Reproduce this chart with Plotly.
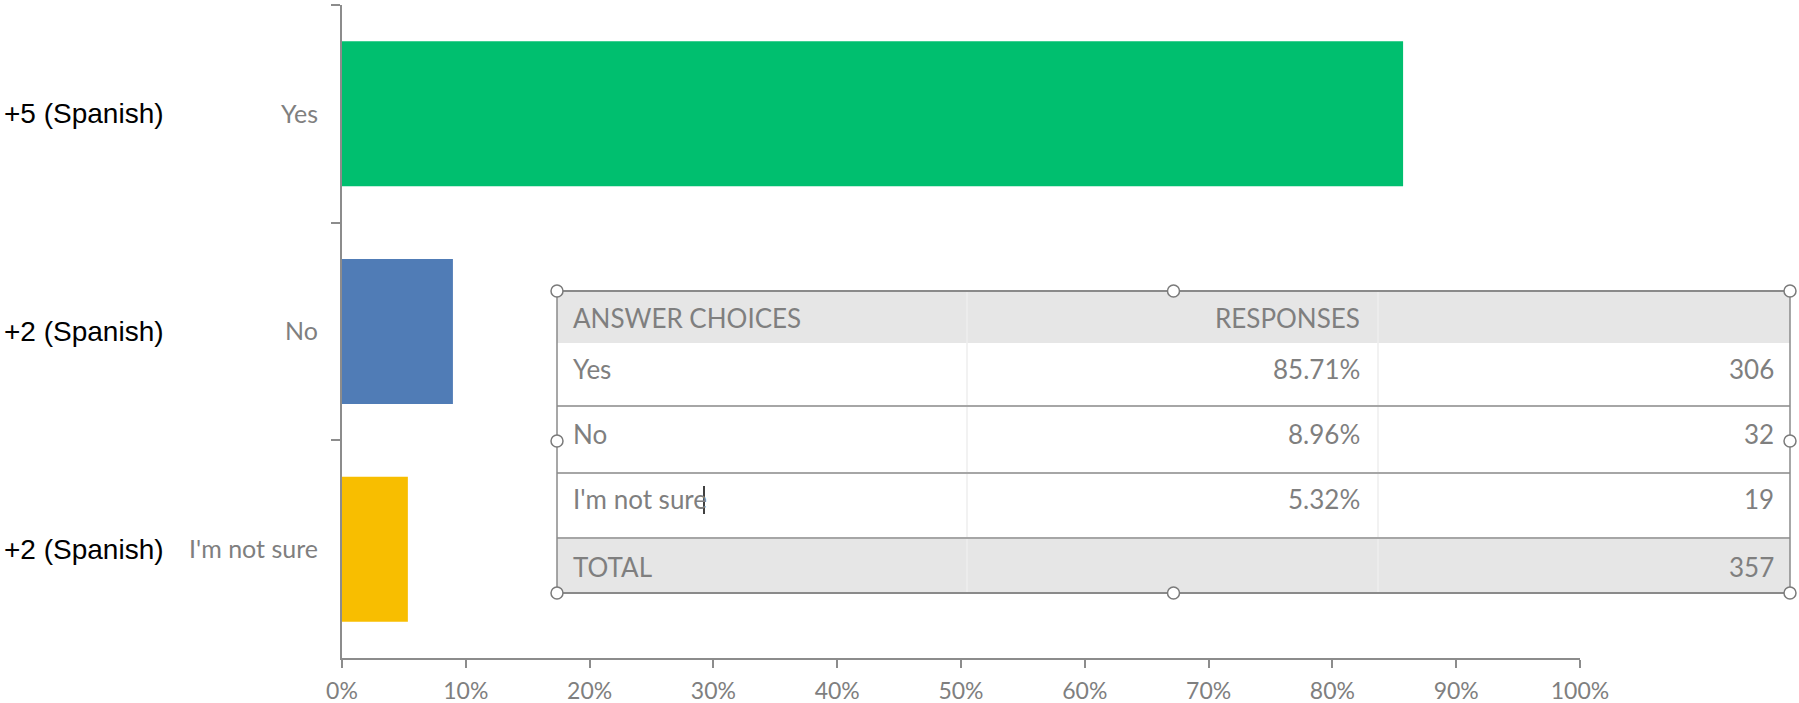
import plotly.graph_objects as go

# ---------------- data ----------------
categories = ["Yes", "No", "I'm not sure"]
percents = [85.71, 8.96, 5.32]
counts = [306, 32, 19]
group_labels = ["+5 (Spanish)", "+2 (Spanish)", "+2 (Spanish)"]
total_count = 357
bar_colors = ["#00BF6F", "#507CB6", "#F8BE00"]
x_tick_vals = [0, 10, 20, 30, 40, 50, 60, 70, 80, 90, 100]
x_tick_text = ["0%", "10%", "20%", "30%", "40%", "50%", "60%", "70%", "80%", "90%", "100%"]
table_header = ["ANSWER CHOICES", "RESPONSES"]
total_label = "TOTAL"

# ---------------- layout geometry (pixels) ----------------
W_FIG, H_FIG = 1799, 703
L, R, T, B = 342, 1580, 5, 658
PW, PH = R - L, B - T


def px(x):
    return (x - L) / PW


def py(y):
    return 1 - (y - T) / PH


GRAY = "#7f7f7f"
AXIS = "#8c8c8c"
FONT_CAL = "Lato"
FONT_ARIAL = "Liberation Sans, Arial"

fig = go.Figure()
fig.add_trace(go.Bar(
    x=percents, y=categories, orientation="h",
    marker=dict(color=bar_colors, line=dict(width=0)),
    hoverinfo="skip", showlegend=False,
))

fig.update_layout(
    width=W_FIG, height=H_FIG,
    margin=dict(l=L, r=W_FIG - R, t=T, b=H_FIG - B, pad=0, autoexpand=False),
    paper_bgcolor="white", plot_bgcolor="white",
    bargap=0.334,
    xaxis=dict(
        range=[0, 100], tickvals=x_tick_vals, ticktext=x_tick_text,
        showgrid=False, zeroline=False, showline=True, linecolor=AXIS, linewidth=2,
        ticks="outside", ticklen=8, tickcolor=AXIS, tickwidth=2,
        tickfont=dict(family=FONT_CAL, size=23, color=GRAY),
        ticklabelstandoff=3, automargin=False,
    ),
    yaxis=dict(
        type="category", categoryorder="array", categoryarray=categories,
        autorange="reversed", range=[2.5, -0.5],
        showgrid=False, zeroline=False, showline=True, linecolor=AXIS, linewidth=2,
        ticks="outside", ticklen=9, tickcolor=AXIS, tickwidth=2, tickson="boundaries",
        tickfont=dict(family=FONT_CAL, size=25, color=GRAY),
        ticklabelstandoff=17, automargin=False,
    ),
)

shapes = []
annotations = []

# group labels on the far left
for cat, lab in zip(categories, group_labels):
    annotations.append(dict(
        text=lab, xref="paper", yref="y", x=px(2), y=cat, xanchor="left", yanchor="middle",
        showarrow=False, font=dict(family=FONT_ARIAL, size=28, color="black"),
    ))

# ---------------- overlay table ----------------
TX0, TX1 = 557, 1790
TY0, TY1 = 291, 593
HDR_B = 343
ROW_LINES = [406, 473, 538]
COL_DIV = [967, 1378]

shapes.append(dict(type="rect", xref="paper", yref="paper", x0=px(TX0), x1=px(TX1),
                   y0=py(TY0), y1=py(HDR_B), fillcolor="#e6e6e6", line=dict(width=0), layer="above"))
shapes.append(dict(type="rect", xref="paper", yref="paper", x0=px(TX0), x1=px(TX1),
                   y0=py(ROW_LINES[-1]), y1=py(TY1), fillcolor="#e6e6e6", line=dict(width=0), layer="above"))
shapes.append(dict(type="rect", xref="paper", yref="paper", x0=px(TX0), x1=px(TX1),
                   y0=py(HDR_B), y1=py(ROW_LINES[-1]), fillcolor="white", line=dict(width=0), layer="above"))
for cx in COL_DIV:
    shapes.append(dict(type="line", xref="paper", yref="paper", x0=px(cx), x1=px(cx),
                       y0=py(TY0), y1=py(TY1), line=dict(color="#eeeeee", width=1.5), layer="above"))
for ry in ROW_LINES:
    shapes.append(dict(type="line", xref="paper", yref="paper", x0=px(TX0), x1=px(TX1),
                       y0=py(ry), y1=py(ry), line=dict(color="#a6a6a6", width=2), layer="above"))
for ry in (TY0, TY1):
    shapes.append(dict(type="line", xref="paper", yref="paper", x0=px(TX0), x1=px(TX1),
                       y0=py(ry), y1=py(ry), line=dict(color="#8a8a8a", width=2), layer="above"))
for cx in (TX0, TX1):
    shapes.append(dict(type="line", xref="paper", yref="paper", x0=px(cx), x1=px(cx),
                       y0=py(TY0), y1=py(TY1), line=dict(color="#8a8a8a", width=1.5), layer="above"))
mid_x = (TX0 + TX1) / 2
mid_y = 441
handles = [(TX0, TY0), (mid_x, TY0), (TX1, TY0), (TX0, mid_y), (TX1, mid_y),
           (TX0, TY1), (mid_x, TY1), (TX1, TY1)]
rad = 6
for hx, hy in handles:
    shapes.append(dict(type="circle", xref="paper", yref="paper",
                       x0=px(hx - rad), x1=px(hx + rad), y0=py(hy + rad), y1=py(hy - rad),
                       fillcolor="white", line=dict(color="#7a7a7a", width=1.5), layer="above"))
# text cursor after "I'm not sure"
shapes.append(dict(type="line", xref="paper", yref="paper", x0=px(704), x1=px(704),
                   y0=py(486), y1=py(514), line=dict(color="black", width=1.5), layer="above"))

TXT_L, TXT_M, TXT_R = 571, 1362, 1776
HDR_Y = 318
ROW_Y = [369, 434, 499]
TOT_Y = 567
tfont = dict(family=FONT_CAL, size=26, color=GRAY)


def add_text(txt, x, y, anchor):
    annotations.append(dict(text=txt, xref="paper", yref="paper", x=px(x), y=py(y),
                            xanchor=anchor, yanchor="middle", showarrow=False, font=tfont))


add_text(table_header[0], TXT_L, HDR_Y, "left")
add_text(table_header[1], TXT_M, HDR_Y, "right")
for cat, p, c, ry in zip(categories, percents, counts, ROW_Y):
    add_text(cat, TXT_L, ry, "left")
    add_text(f"{p:.2f}%", TXT_M, ry, "right")
    add_text(str(c), TXT_R, ry, "right")
add_text(total_label, TXT_L, TOT_Y, "left")
add_text(str(total_count), TXT_R, TOT_Y, "right")

fig.update_layout(shapes=shapes, annotations=annotations)
fig.write_html("out.html", config={"displayModeBar": False},
               post_script="document.body.style.margin='0px';")
